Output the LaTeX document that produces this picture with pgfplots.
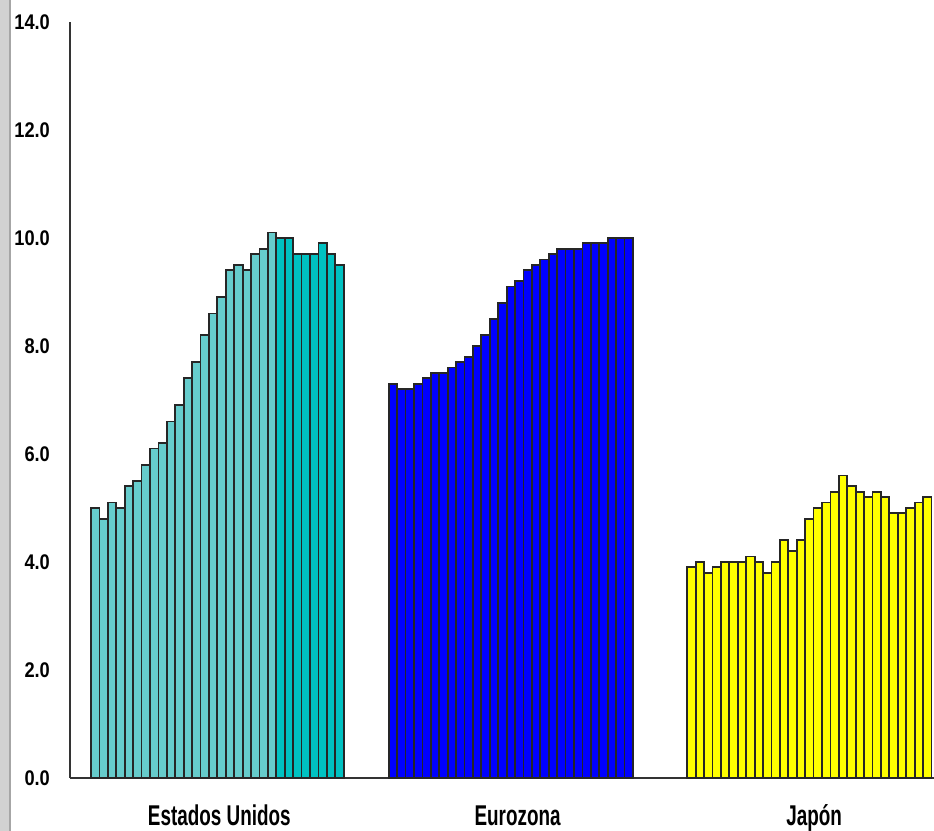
\documentclass[border=0pt]{standalone}
\usepackage{fontspec}
\setmainfont{Liberation Sans}
\usepackage{pgfplots}
\pgfplotsset{compat=1.18}

\definecolor{tealLight}{RGB}{102,204,204}
\definecolor{tealDark}{RGB}{0,194,194}
\definecolor{euroBlue}{RGB}{0,0,255}
\definecolor{japYellow}{RGB}{255,255,0}

\begin{document}
\begin{tikzpicture}
% fixed page: 467pt x 415.5pt
\path[use as bounding box] (0,0) rectangle (467pt,415.5pt);
% grey strip along the left edge
\fill[gray!35] (0,0) rectangle (4.6pt,415.5pt);
\draw[gray!70, line width=1.1pt] (5pt,0) -- (5pt,415.5pt);

\begin{axis}[
  at={(35pt,26.5pt)}, anchor=south west,
  scale only axis, width=432pt, height=378pt,
  xmin=0, xmax=102.6, ymin=0, ymax=14,
  clip=false,
  axis x line=bottom, axis y line=left,
  axis line style={-, black!80, line width=0.75pt},
  major tick length=0pt,
  ytick={0,2,4,6,8,10,12,14},
  /pgf/number format/.cd, fixed, fixed zerofill, precision=1, assume math mode=true,
  /pgfplots/.cd,
  yticklabel style={font=\bfseries\fontsize{10.6}{12}\selectfont, anchor=east,
                    xscale=0.86, inner sep=0pt, xshift=-11.5pt},
  xtick={17.73,53.15,88.36},
  xticklabels={Estados Unidos, Eurozona, Japón},
  xticklabel style={font=\bfseries\fontsize{14.3}{16}\selectfont, anchor=base,
                    xscale=0.66, inner sep=0pt, yshift=-24pt},
  every axis plot/.append style={ybar, bar width=1, bar shift=0pt,
                                 draw=black!85, line width=0.9pt},
]
% Estados Unidos
\addplot[fill=tealLight] coordinates {
  (3,5.0) (4,4.8) (5,5.1) (6,5.0) (7,5.4) (8,5.5) (9,5.8) (10,6.1)
  (11,6.2) (12,6.6) (13,6.9) (14,7.4) (15,7.7) (16,8.2) (17,8.6) (18,8.9)
  (19,9.4) (20,9.5) (21,9.4) (22,9.7) (23,9.8) (24,10.1)
};
\addplot[fill=tealDark] coordinates {
  (25,10.0) (26,10.0) (27,9.7) (28,9.7) (29,9.7) (30,9.9) (31,9.7) (32,9.5)
};
% Eurozona
\addplot[fill=euroBlue] coordinates {
  (38.35,7.3) (39.35,7.2) (40.35,7.2) (41.35,7.3) (42.35,7.4) (43.35,7.5)
  (44.35,7.5) (45.35,7.6) (46.35,7.7) (47.35,7.8) (48.35,8.0) (49.35,8.2)
  (50.35,8.5) (51.35,8.8) (52.35,9.1) (53.35,9.2) (54.35,9.4) (55.35,9.5)
  (56.35,9.6) (57.35,9.7) (58.35,9.8) (59.35,9.8) (60.35,9.8) (61.35,9.9)
  (62.35,9.9) (63.35,9.9) (64.35,10.0) (65.35,10.0) (66.35,10.0)
};
% Japón
\addplot[fill=japYellow] coordinates {
  (73.8,3.9) (74.8,4.0) (75.8,3.8) (76.8,3.9) (77.8,4.0) (78.8,4.0)
  (79.8,4.0) (80.8,4.1) (81.8,4.0) (82.8,3.8) (83.8,4.0) (84.8,4.4)
  (85.8,4.2) (86.8,4.4) (87.8,4.8) (88.8,5.0) (89.8,5.1) (90.8,5.3)
  (91.8,5.6) (92.8,5.4) (93.8,5.3) (94.8,5.2) (95.8,5.3) (96.8,5.2)
  (97.8,4.9) (98.8,4.9) (99.8,5.0) (100.8,5.1) (101.8,5.2)
};
\end{axis}
\end{tikzpicture}
\end{document}
